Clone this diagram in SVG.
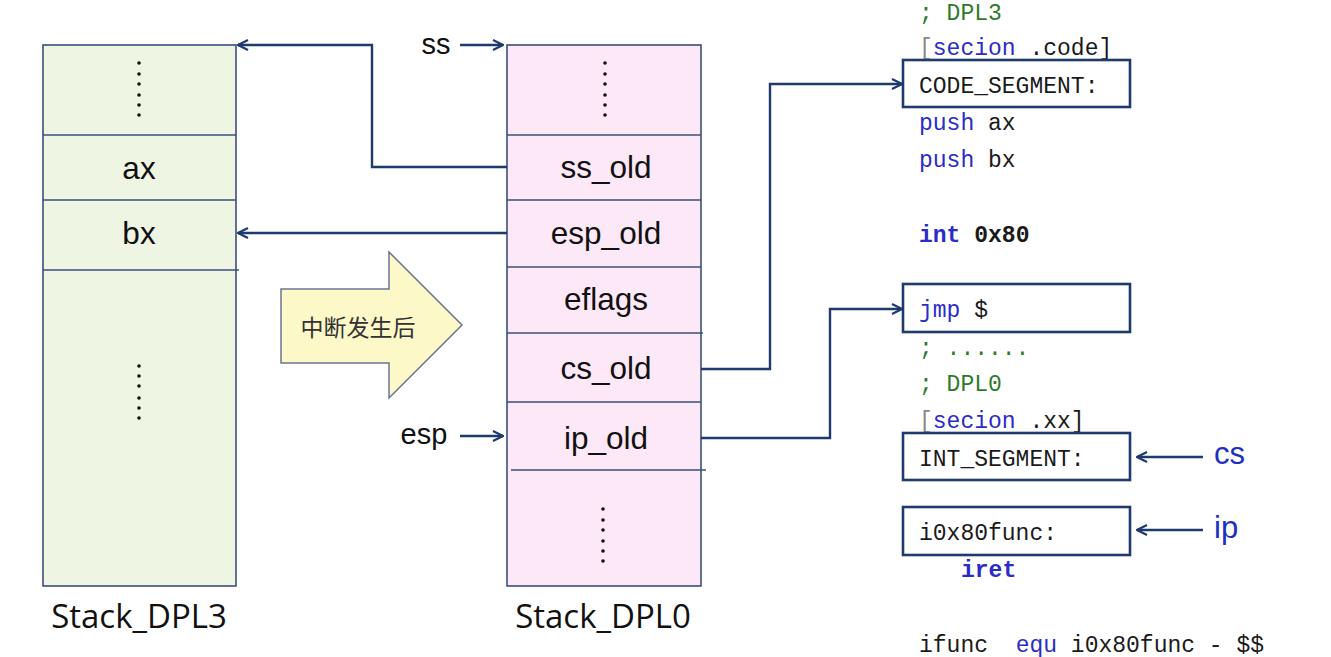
<svg xmlns="http://www.w3.org/2000/svg" width="1331" height="657" viewBox="0 0 1331 657">
<defs>
<marker id="ah" viewBox="0 0 12 12" refX="11" refY="6" markerWidth="12" markerHeight="12" markerUnits="userSpaceOnUse" orient="auto">
<path d="M1,1 L11,6 L1,11" fill="none" stroke="#1f3a6e" stroke-width="2.2"/>
</marker>
</defs>
<style>
.cell{stroke:#3a4f7a;stroke-width:1.6}
.g{fill:#eef5e3}
.p{fill:#fde8f8}
.lbl{font-family:"Liberation Sans",Arial,sans-serif;font-size:31.5px;fill:#111;text-anchor:middle}
.cap{font-family:"Open Sans","Noto Sans",sans-serif;font-size:33px;fill:#111;text-anchor:middle}
.dot{fill:#111}
.conn{fill:none;stroke:#1f3a6e;stroke-width:2.4;marker-end:url(#ah)}
.box{fill:none;stroke:#1f3a6e;stroke-width:2.6}
.code{font-family:"Liberation Mono","DejaVu Sans Mono",monospace;font-size:23px;fill:#1a1a1a;white-space:pre}
.kw{fill:#2b2bc8}
.cm{fill:#2f7a2a}
.br{fill:#888}
.b{font-weight:bold}
.reg{font-family:"Liberation Sans",Arial,sans-serif;font-size:31px;fill:#1e2fc0}
</style>
<rect width="1331" height="657" fill="#ffffff"/>

<g id="stack_dpl3">
<rect class="cell g" x="43" y="45" width="193" height="541"/>
<line class="cell" x1="43" y1="135" x2="236" y2="135"/>
<line class="cell" x1="43" y1="200" x2="236" y2="200"/>
<line class="cell" x1="43" y1="270" x2="239" y2="270"/>
<g class="dot">
<circle cx="139" cy="63" r="1.8"/><circle cx="139" cy="74" r="1.8"/><circle cx="139" cy="84" r="1.8"/><circle cx="139" cy="95" r="1.8"/><circle cx="139" cy="105" r="1.8"/><circle cx="139" cy="115" r="1.8"/>
<circle cx="139" cy="366" r="1.8"/><circle cx="139" cy="376" r="1.8"/><circle cx="139" cy="386" r="1.8"/><circle cx="139" cy="398" r="1.8"/><circle cx="139" cy="408" r="1.8"/><circle cx="139" cy="418" r="1.8"/>
</g>
<text class="lbl" x="139" y="179">ax</text>
<text class="lbl" x="139" y="244">bx</text>
<text class="cap" x="139" y="628">Stack_DPL3</text>
</g>

<g id="stack_dpl0">
<rect class="cell p" x="507" y="45" width="194" height="541"/>
<line class="cell" x1="507" y1="135" x2="701" y2="135"/>
<line class="cell" x1="507" y1="200" x2="701" y2="200"/>
<line class="cell" x1="507" y1="267" x2="701" y2="267"/>
<line class="cell" x1="507" y1="333" x2="703" y2="333"/>
<line class="cell" x1="507" y1="402" x2="701" y2="402"/>
<line class="cell" x1="511" y1="470" x2="706" y2="470"/>
<g class="dot">
<circle cx="605" cy="63" r="1.8"/><circle cx="605" cy="74" r="1.8"/><circle cx="605" cy="84" r="1.8"/><circle cx="605" cy="95" r="1.8"/><circle cx="605" cy="105" r="1.8"/><circle cx="605" cy="115" r="1.8"/>
<circle cx="603" cy="509" r="1.8"/><circle cx="603" cy="520" r="1.8"/><circle cx="603" cy="530" r="1.8"/><circle cx="603" cy="541" r="1.8"/><circle cx="603" cy="551" r="1.8"/><circle cx="603" cy="561" r="1.8"/>
</g>
<text class="lbl" x="606" y="178">ss_old</text>
<text class="lbl" x="606" y="244">esp_old</text>
<text class="lbl" x="606" y="310">eflags</text>
<text class="lbl" x="606" y="379">cs_old</text>
<text class="lbl" x="606" y="449">ip_old</text>
<text class="cap" x="603" y="628">Stack_DPL0</text>
</g>

<g id="ss_label"><text class="lbl" x="436" y="54" style="font-size:29px">ss</text></g>
<g id="esp_label"><text class="lbl" x="424" y="444" style="font-size:29px">esp</text></g>

<g id="big_arrow">
<path d="M281,289 L389,289 L389,252 L462,325 L389,398 L389,363 L281,363 Z" fill="#fdf8c8" stroke="#6a7590" stroke-width="1.5"/>
<text x="358" y="336" font-family="'Noto Sans CJK SC',sans-serif" font-size="23" fill="#333" text-anchor="middle">中断发生后</text>
</g>

<g id="code">
<text class="code cm" x="919" y="20">; DPL3</text>
<text class="code" x="919" y="55"><tspan class="br">[</tspan><tspan class="kw">secion</tspan> .code]</text>
<text class="code" x="919" y="93">CODE_SEGMENT:</text>
<text class="code" x="919" y="130"><tspan class="kw">push</tspan> ax</text>
<text class="code" x="919" y="167"><tspan class="kw">push</tspan> bx</text>
<text class="code b" x="919" y="242"><tspan class="kw">int</tspan> 0x80</text>
<text class="code" x="919" y="317"><tspan class="kw">jmp</tspan> $</text>
<text class="code cm" x="919" y="355">; ......</text>
<text class="code cm" x="919" y="391">; DPL0</text>
<text class="code" x="919" y="428"><tspan class="br">[</tspan><tspan class="kw">secion</tspan> .xx]</text>
<text class="code" x="919" y="466">INT_SEGMENT:</text>
<text class="code" x="919" y="540">i0x80func:</text>
<text class="code b kw" x="961" y="577">iret</text>
<text class="code" x="919" y="652">ifunc  <tspan class="kw">equ</tspan> i0x80func - $$</text>
</g>

<g id="box_code_segment"><rect class="box" x="903" y="60" width="227" height="47"/></g>
<g id="box_jmp"><rect class="box" x="903" y="284" width="227" height="48"/></g>
<g id="box_int_segment"><rect class="box" x="903" y="433" width="227" height="47"/></g>
<g id="box_i0x80func"><rect class="box" x="903" y="507" width="227" height="48"/></g>

<g id="cs_label"><text class="reg" x="1214" y="464">cs</text></g>
<g id="ip_label"><text class="reg" x="1214" y="538">ip</text></g>

<g id="connectors">
<path class="conn" d="M507,167 L372,167 L372,45 L238,45"/>
<path class="conn" d="M507,233 L238,233"/>
<path class="conn" d="M701,369 L770,369 L770,84 L902,84"/>
<path class="conn" d="M701,438 L830,438 L830,309 L902,309"/>
<path class="conn" d="M460,45 L503,45"/>
<path class="conn" d="M460,436 L503,436"/>
<path class="conn" d="M1203,457 L1137,457"/>
<path class="conn" d="M1203,530 L1137,530"/>
</g>
</svg>
